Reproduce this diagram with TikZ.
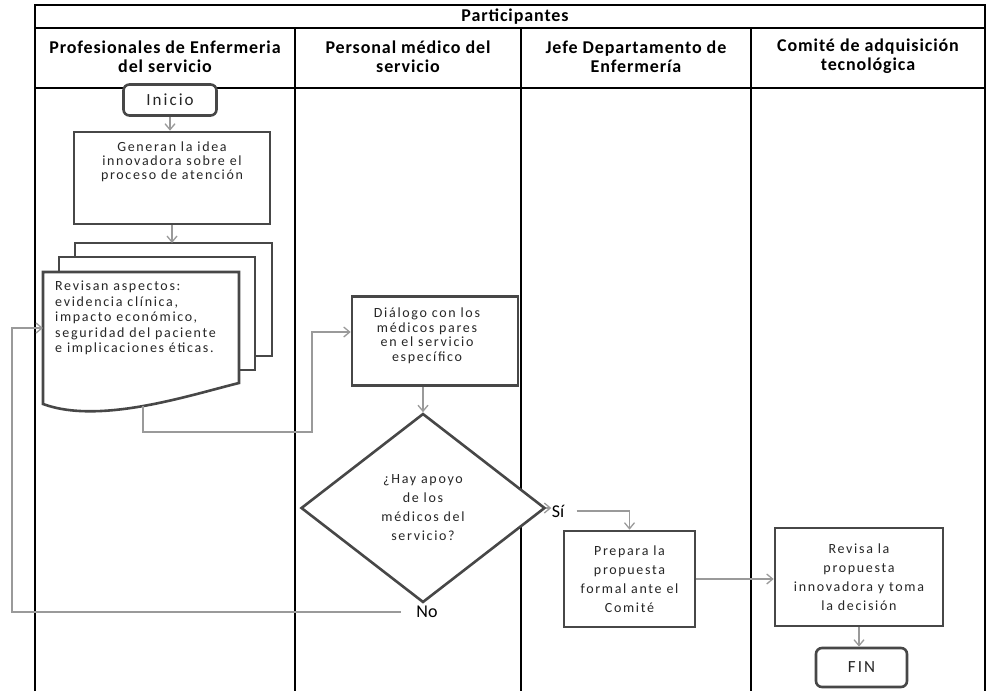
\documentclass[tikz,border=0pt]{standalone}
\usepackage{fontspec}
\setmainfont{Carlito}
\newfontfamily\boxfont{Carlito}[LetterSpace=12]
\newfontfamily\headfont{Carlito}[LetterSpace=5]
\usetikzlibrary{arrows.meta,shapes.geometric,calc}
\definecolor{boxgray}{HTML}{474747}
\definecolor{conngray}{HTML}{9A9A9A}
\definecolor{txtgray}{HTML}{262626}
\begin{document}
\begin{tikzpicture}[x=1pt,y=-1pt,
  lane/.style={line width=1.3pt,black},
  headtxt/.style={font=\headfont\bfseries\fontsize{18}{19}\selectfont,align=center,inner sep=0pt},
  boxline/.style={draw=boxgray,line width=2.6pt},
  procbox/.style={boxline,fill=white,align=center,text=txtgray,inner sep=2pt,
    font=\boxfont\fontsize{14}{15}\selectfont},
  termbox/.style={boxline,rounded corners=6pt,fill=white,text=txtgray,
    font=\boxfont\fontsize{17}{18}\selectfont},
  decbox/.style={boxline,diamond,fill=white,align=center,text=txtgray,inner sep=0pt,
    font=\boxfont\fontsize{14}{19}\selectfont},
  lbl/.style={font=\fontsize{18}{19}\selectfont,text=black},
  conn/.style={draw=conngray,line width=1.3pt,-{Straight Barb[length=6pt,width=10pt]}}
]
\useasboundingbox (0,0) rectangle (987,691);

% table
\draw[lane] (35,691) -- (35,5) -- (985,5) -- (985,691);
\draw[lane] (35,28) -- (985,28);
\draw[lane] (35,88) -- (985,88);
\draw[lane] (295,28) -- (295,691);
\draw[lane] (521,28) -- (521,691);
\draw[lane] (751,28) -- (751,691);

\node[headtxt] (hpart) at (515,17) {Participantes};
\node[headtxt] (h1) at (165,56.5) {Profesionales de Enfermeria\\del servicio};
\node[headtxt] (h2) at (408,56.5) {Personal médico del\\servicio};
\node[headtxt] (h3) at (636,56.5) {Jefe Departamento de\\Enfermería};
\node[headtxt] (h4) at (868,56.5) {Comité de adquisición\\tecnológica};

% lane 1
\node[termbox,minimum width=93pt,minimum height=31pt] (inicio) at (170,100) {Inicio};
\node[procbox,minimum width=196pt,minimum height=92pt,
  label={[anchor=north,align=center,text=txtgray,yshift=-8pt,
    font=\boxfont\fontsize{14}{14}\selectfont]north:Generan la idea\\innovadora sobre el\\proceso de atención}]
  (gen) at (172,178) {};

% multidocument
\draw[boxline,fill=white] (75,243) rectangle (272,356);
\draw[boxline,fill=white] (59,257) rectangle (255,370);
\draw[boxline,fill=white] (43,272) -- (239,272) -- (239,383)
  .. controls (190,395) and (100,425) .. (43,404) -- cycle;
\coordinate (doctop) at (173.5,243);
\coordinate (frontW) at (43,328);
\coordinate (frontB) at (143,406);
\node[anchor=north west,align=left,text=txtgray,inner sep=0pt,
  font=\boxfont\fontsize{14}{15.5}\selectfont] (revtxt) at (55,281)
  {Revisan aspectos:\\evidencia clínica,\\impacto económico,\\seguridad del paciente\\e implicaciones éticas.};

% lane 2
\node[procbox,minimum width=166pt,minimum height=89pt,
  label={[align=center,text=txtgray,xshift=-8pt,yshift=5pt,
    font=\boxfont\fontsize{14}{14.5}\selectfont]center:Diálogo con los\\médicos pares\\en el servicio\\específico}]
  (dial) at (435,341) {};
\node[decbox,minimum width=244pt,minimum height=189pt,aspect=1.29] (dec) at (423,508)
  {¿Hay apoyo\\de los\\médicos del\\servicio?};
\node[lbl] (no) at (427,612) {No};
\node[lbl] (si) at (558,511) {Sí};

% lane 3
\node[procbox,minimum width=131pt,minimum height=96pt,font=\boxfont\fontsize{14}{19}\selectfont]
  (prep) at (629.5,579) {Prepara la\\propuesta\\formal ante el\\Comité};

% lane 4
\node[procbox,minimum width=168pt,minimum height=98pt,font=\boxfont\fontsize{14}{19}\selectfont]
  (rv) at (859,577) {Revisa la\\propuesta\\innovadora y toma\\la decisión};
\node[termbox,minimum width=91pt,minimum height=39pt] (fin) at (861.5,667.5) {FIN};

% connectors
\draw[conn] (inicio.south) -- (inicio.south |- gen.north);
\draw[conn] (gen.south) -- (gen.south |- doctop);
\coordinate (jog) at (312,432);
\coordinate (dialin) at ($(dial.west)+(0,-9)$);
\draw[conn] (frontB) |- (jog) |- (dialin);
\draw[conn] (dec.north |- dial.south) -- (dec.north);
\draw[conn] (dec.east) -- ++(5,0);
\draw[conn,shorten <=9pt] (si.east) -| (prep.north);
\draw[conn] (prep.east) -- (prep.east -| rv.west);
\draw[conn] (rv.south) -- (rv.south |- fin.north);
\coordinate (loopL) at (12,470);
\draw[conn,shorten <=12pt] (no.west) -| (loopL) |- (frontW);
\end{tikzpicture}
\end{document}
